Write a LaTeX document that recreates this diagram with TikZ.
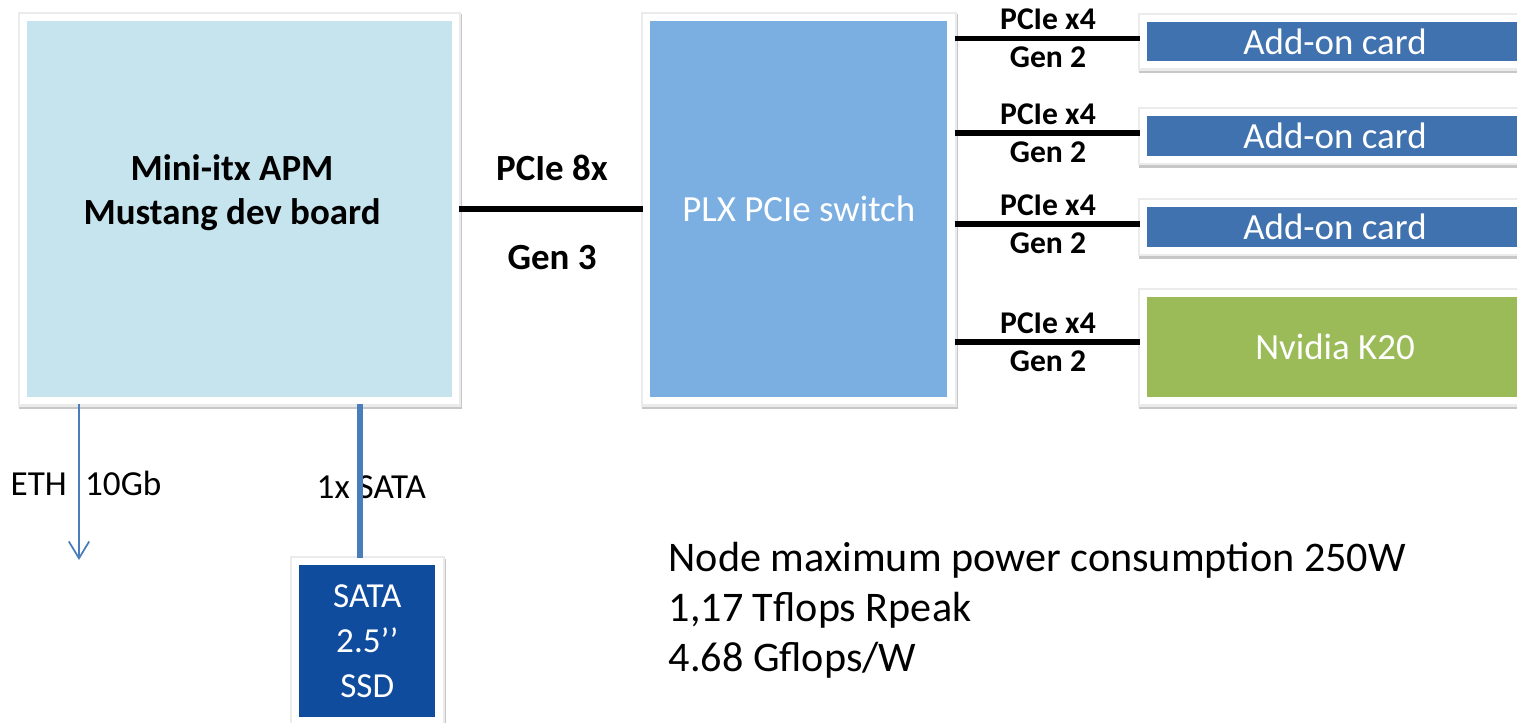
\documentclass[tikz,border=0pt]{standalone}
\usepackage{fontspec}
\setmainfont{Carlito}
\usetikzlibrary{arrows.meta}
\definecolor{boardfill}{HTML}{C6E4EE}
\definecolor{plxfill}{HTML}{7CAFE1}
\definecolor{cardfill}{HTML}{4172B0}
\definecolor{gpufill}{HTML}{9BBB59}
\definecolor{ssdfill}{HTML}{104C9E}
\definecolor{linkblue}{HTML}{4A7EBB}
\tikzset{
  box/.style={draw=white, line width=2pt, inner sep=0pt, align=center,
              preaction={draw=black!22, line width=3.2pt,
                         transform canvas={xshift=0.3pt, yshift=-0.7pt}},
              preaction={draw=black!8, line width=3.4pt}},
  boardbox/.style={box, fill=boardfill, minimum width=4.32cm, minimum height=3.835cm},
  plxbox/.style={box, fill=plxfill, minimum width=3.045cm, minimum height=3.835cm,
                 text=white, font=\fontsize{10.5}{12.6}\selectfont},
  cardbox/.style={box, fill=cardfill, minimum width=3.83cm, minimum height=0.465cm,
                  text=white, font=\fontsize{10.5}{12.6}\selectfont},
  gpubox/.style={box, fill=gpufill, minimum width=3.83cm, minimum height=1.075cm,
                 text=white, font=\fontsize{10.5}{12.6}\selectfont},
  ssdbox/.style={box, fill=ssdfill, minimum width=1.435cm, minimum height=1.585cm,
                 text=white, font=\fontsize{10}{12.8}\selectfont},
  boldlbl/.style={font=\bfseries\fontsize{10.5}{12.6}\selectfont, align=center},
  linklbl/.style={font=\bfseries\fontsize{9}{10}\selectfont, inner sep=0pt},
  plainlbl/.style={font=\fontsize{10}{12}\selectfont, inner sep=0pt},
  pcie/.style={line width=1.6pt, black},
  sata/.style={line width=1.7pt, linkblue},
  eth/.style={line width=0.5pt, linkblue, -{Straight Barb[length=4.8pt, width=5.8pt]}},
}
\begin{document}
\begin{tikzpicture}
  \useasboundingbox (0,0) rectangle (15.17,-7.23);
  \clip (0,0) rectangle (15.17,-7.23);

  % boxes
  \node[boardbox] (board) at (2.395,-2.0925) {};
  \node[boldlbl] (boardtext) at (2.32,-1.93) {Mini-itx APM\\Mustang dev board};
  \node[plxbox] (plx) at (7.9875,-2.0925) {PLX PCIe switch};
  \node[cardbox] (card1) at (13.35,-0.4175) {Add-on card};
  \node[cardbox] (card2) at (13.35,-1.3625) {Add-on card};
  \node[cardbox] (card3) at (13.35,-2.2725) {Add-on card};
  \node[gpubox] (gpu) at (13.35,-3.4725) {Nvidia K20};
  \node[ssdbox] (ssd) at (3.6725,-6.4125) {SATA\\2.5’’\\SSD};

  % links to the switch
  \draw[pcie] (board.east |- 0,-2.09) -- (plx.west |- 0,-2.09);
  \node[boldlbl] (pcie8) at (5.52,-1.68) {PCIe 8x};
  \node[boldlbl] (gen3) at (5.52,-2.58) {Gen 3};
  \foreach \c/\y in {card1/-0.385, card2/-1.33, card3/-2.24, gpu/-3.42} {
    \draw[pcie] (plx.east |- 0,\y) -- (\c.west |- 0,\y);
    \node[linklbl] at (10.48,\y+0.19) {PCIe x4};
    \node[linklbl] at (10.48,\y-0.19) {Gen 2};
  }

  % ethernet and disk
  \coordinate (ethend) at (0.79,-5.60);
  \draw[eth] (board.south -| ethend) -- (ethend);
  \node[plainlbl, anchor=west] (ethlbl) at (0.10,-4.83) {ETH\hspace{5.2pt}10Gb};
  \node[plainlbl, anchor=west] (satalbl) at (3.16,-4.87) {1x SATA};
  \coordinate (sataX) at (3.60,-4.5);
  \draw[sata] (board.south -| sataX) -- (ssd.north -| sataX);

  % figures
  \node[anchor=north west, align=left, inner sep=0pt,
        font=\fontsize{12}{14.2}\selectfont] (perf) at (6.68,-5.42)
    {Node maximum power consumption 250W\\1,17 Tflops Rpeak\\4.68 Gflops/W};
\end{tikzpicture}
\end{document}
